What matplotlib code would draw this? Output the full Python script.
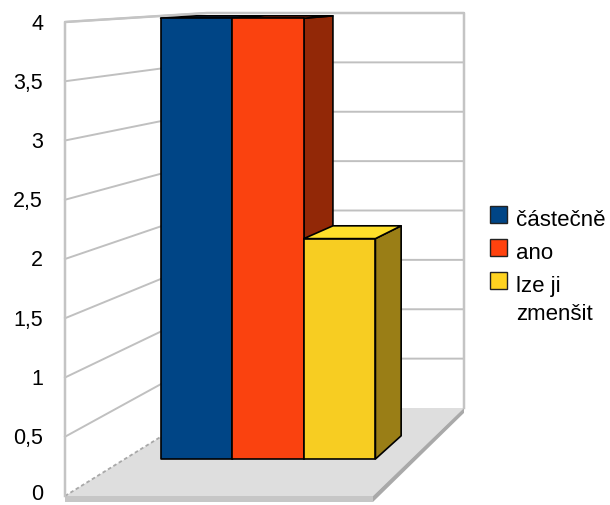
import matplotlib
matplotlib.use('Agg')
import matplotlib.pyplot as plt
from matplotlib.patches import Polygon, Rectangle
import numpy as np

# ---- data ----
categories = ['částečně', 'ano', 'lze ji zmenšit']
legend_labels = ['částečně', 'ano', 'lze ji\nzmenšit']
values = [4, 4, 2]
y_ticks = [0, 0.5, 1, 1.5, 2, 2.5, 3, 3.5, 4]
y_tick_labels = ['0', '0,5', '1', '1,5', '2', '2,5', '3', '3,5', '4']
y_max = 4

# ---- styles ----
front_colors = ['#004586', '#fa420f', '#f7cd22']
side_colors = ['#00305e', '#922807', '#9a7e16']
top_colors = ['#0d2f55', '#c23a10', '#ffe02a']
legend_colors = ['#004586', '#ff420e', '#ffd320']
plt.rcParams['font.family'] = ['Liberation Sans', 'DejaVu Sans']

W, H = 610, 506
fig = plt.figure(figsize=(W / 100, H / 100), dpi=100)
ax = fig.add_axes([0, 0, 1, 1])
ax.set_xlim(0, W)
ax.set_ylim(H, 0)
ax.axis('off')

# perspective projection (layout parameters)
VP = np.array([919.0, -31.0])
X0, KX = 65.0, 77.0          # front plane x origin, px per bar width
Y0, KY = 497.0, 118.5        # front plane y origin, px per value unit
FLOOR_W = 4.0                # floor width in bar widths
FLOOR_D = 0.2                # depth of floor
BAR_Z0, BAR_Z1 = 0.0753, 0.1287
SLAB = 0.05                  # floor thickness in value units
n = len(values)
bar_x0 = (FLOOR_W - n) / 2.0


def proj(X, Y, Z):
    fx = X0 + KX * X
    fy = Y0 - KY * Y
    s = 1.0 / (1.0 + Z)
    return (VP[0] + (fx - VP[0]) * s, VP[1] + (fy - VP[1]) * s)


def poly(pts, **kw):
    ax.add_patch(Polygon([proj(*p) for p in pts], closed=True, **kw))


def line(pts, **kw):
    xy = np.array([proj(*p) for p in pts])
    ax.plot(xy[:, 0], xy[:, 1], **kw)


# walls
poly([(0, 0, 0), (0, y_max, 0), (0, y_max, FLOOR_D), (0, 0, FLOOR_D)],
     facecolor='white', edgecolor='none', zorder=1)
poly([(0, 0, FLOOR_D), (0, y_max, FLOOR_D), (FLOOR_W, y_max, FLOOR_D), (FLOOR_W, 0, FLOOR_D)],
     facecolor='white', edgecolor='none', zorder=1)

# floor slab
poly([(0, 0, 0), (FLOOR_W, 0, 0), (FLOOR_W, 0, FLOOR_D), (0, 0, FLOOR_D)],
     facecolor='#dedede', edgecolor='none', zorder=2)
poly([(0, 0, 0), (FLOOR_W, 0, 0), (FLOOR_W, -SLAB, 0), (0, -SLAB, 0)],
     facecolor='#c6c6c6', edgecolor='none', zorder=2)
poly([(FLOOR_W, 0, 0), (FLOOR_W, 0, FLOOR_D), (FLOOR_W, -SLAB, FLOOR_D), (FLOOR_W, -SLAB, 0)],
     facecolor='#a9a9a9', edgecolor='none', zorder=2)

# grid lines
for v in y_ticks:
    if v == 0:
        line([(0, v, 0), (0, v, FLOOR_D)], color='#a8a8a8', lw=1.3, ls=(0, (2, 1.5)), zorder=3)
    else:
        line([(0, v, 0), (0, v, FLOOR_D), (FLOOR_W, v, FLOOR_D)], color='#c0c0c0', lw=1.4, zorder=3)
# wall outlines
line([(0, 0, 0), (0, y_max, 0), (0, y_max, FLOOR_D), (FLOOR_W, y_max, FLOOR_D), (FLOOR_W, 0, FLOOR_D)],
     color='#c4c4c4', lw=1.8, zorder=3)

# bars (left to right so that right faces are hidden properly)
for i, v in enumerate(values):
    xa, xb = bar_x0 + i, bar_x0 + i + 1
    z = 10 + i
    ek = dict(edgecolor='black', linewidth=1.2, joinstyle='round')
    poly([(xb, 0, BAR_Z0), (xb, v, BAR_Z0), (xb, v, BAR_Z1), (xb, 0, BAR_Z1)],
         facecolor=side_colors[i], zorder=z, **ek)
    poly([(xa, v, BAR_Z0), (xb, v, BAR_Z0), (xb, v, BAR_Z1), (xa, v, BAR_Z1)],
         facecolor=top_colors[i], zorder=z, **ek)
    poly([(xa, 0, BAR_Z0), (xb, 0, BAR_Z0), (xb, v, BAR_Z0), (xa, v, BAR_Z0)],
         facecolor=front_colors[i], zorder=z + 0.5, **ek)

# y tick labels
for v, lab in zip(y_ticks, y_tick_labels):
    x, y = proj(0, v, 0)
    ax.text(x - 22, min(y + 1, H - 11), lab, ha='right', va='center', fontsize=15.5, color='black')

# legend
leg_x, leg_y0, leg_dy, sq = 490, 207, 33, 17
line_gap = 28
for i, (lab, c) in enumerate(zip(legend_labels, legend_colors)):
    top = leg_y0 + i * leg_dy
    ax.add_patch(Rectangle((leg_x, top), sq, sq, facecolor=c, edgecolor='#222222',
                           linewidth=1.0, zorder=20))
    for k, part in enumerate(lab.split('\n')):
        ax.text(leg_x + 26, top + 19 + k * line_gap, part, ha='left', va='baseline',
                fontsize=16, color='black')

fig.savefig('out.png', dpi=100)
